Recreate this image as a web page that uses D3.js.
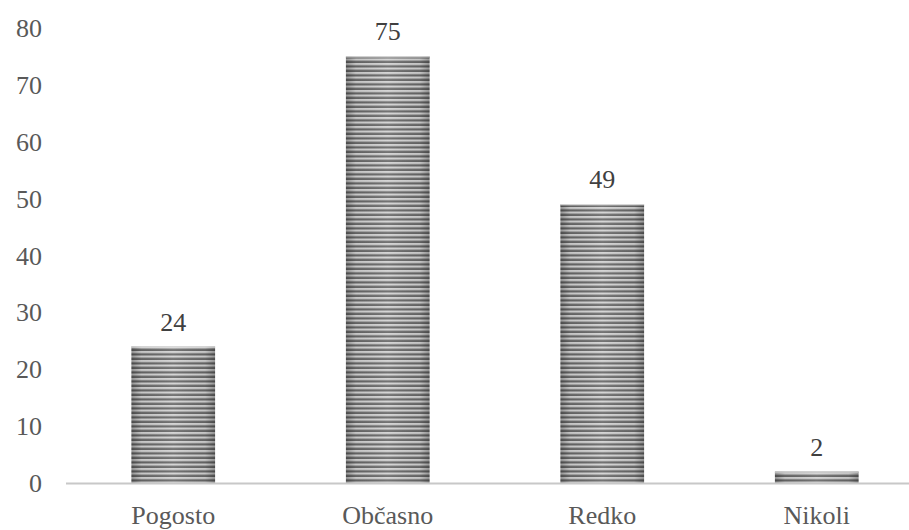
<!DOCTYPE html>
<html>
<head>
<meta charset="utf-8">
<script src="https://cdn.jsdelivr.net/npm/d3@7"></script>
<style>
  html, body { margin: 0; padding: 0; background: #fff; }
  svg { display: block; }
</style>
</head>
<body>
<svg id="chart" width="909" height="530"></svg>
<script>
// Response categories and counts
const categories = ["Pogosto", "Občasno", "Redko", "Nikoli"];
const counts = [24, 75, 49, 2];
const yTicks = [0, 10, 20, 30, 40, 50, 60, 70, 80];

const FONT = "'Liberation Serif', 'Times New Roman', 'DejaVu Serif', serif";
const svg = d3.select("#chart").attr("font-family", FONT);
const plotLeft = 66, plotRight = 924, plotTop = 28, plotBottom = 483;

const x = d3.scaleBand().domain(categories).range([plotLeft, plotRight]).paddingInner(0.61).paddingOuter(0.305);
const y = d3.scaleLinear().domain([0, 80]).range([plotBottom, plotTop]);

const defs = svg.append("defs");
// horizontal stripes
const pat = defs.append("pattern")
  .attr("id", "stripes")
  .attr("patternUnits", "userSpaceOnUse")
  .attr("width", 10).attr("height", 4.5);
pat.append("rect").attr("width", 10).attr("height", 4.5).attr("fill", "#d2d2d2");
pat.append("rect").attr("y", 2.2).attr("width", 10).attr("height", 2.3).attr("fill", "#686868");

// darker edges across each bar
const grad = defs.append("linearGradient").attr("id", "edgeShade")
  .attr("x1", "0%").attr("x2", "100%").attr("y1", "0%").attr("y2", "0%");
grad.append("stop").attr("offset", "0%").attr("stop-color", "#000").attr("stop-opacity", 0.3);
grad.append("stop").attr("offset", "12%").attr("stop-color", "#000").attr("stop-opacity", 0.06);
grad.append("stop").attr("offset", "50%").attr("stop-color", "#fff").attr("stop-opacity", 0.08);
grad.append("stop").attr("offset", "88%").attr("stop-color", "#000").attr("stop-opacity", 0.06);
grad.append("stop").attr("offset", "100%").attr("stop-color", "#000").attr("stop-opacity", 0.3);

// y tick labels
svg.append("g").selectAll("text").data(yTicks).join("text")
  .attr("x", 42).attr("y", d => y(d))
  .attr("dy", "0.35em")
  .attr("text-anchor", "end")
  .attr("font-family", FONT)
  .attr("font-size", 26)
  .attr("fill", "#595959")
  .text(d => d);

// bars
const bars = svg.append("g").selectAll("g").data(categories).join("g");
bars.append("rect")
  .attr("x", d => x(d)).attr("width", x.bandwidth())
  .attr("y", (d, i) => y(counts[i])).attr("height", (d, i) => plotBottom - y(counts[i]))
  .attr("fill", "url(#stripes)");
bars.append("rect")
  .attr("x", d => x(d)).attr("width", x.bandwidth())
  .attr("y", (d, i) => y(counts[i])).attr("height", (d, i) => plotBottom - y(counts[i]))
  .attr("fill", "url(#edgeShade)");
bars.append("rect")
  .attr("x", d => x(d)).attr("width", x.bandwidth())
  .attr("y", (d, i) => y(counts[i])).attr("height", 1)
  .attr("fill", "#e2e2e2");

// baseline
svg.append("line")
  .attr("x1", plotLeft).attr("x2", plotRight)
  .attr("y1", plotBottom + 0.5).attr("y2", plotBottom + 0.5)
  .attr("stroke", "#c8c8c8").attr("stroke-width", 2);

// value labels
svg.append("g").selectAll("text").data(categories).join("text")
  .attr("x", d => x(d) + x.bandwidth() / 2)
  .attr("y", (d, i) => y(counts[i]) - 16)
  .attr("text-anchor", "middle")
  .attr("font-family", FONT)
  .attr("font-size", 26)
  .attr("fill", "#404040")
  .text((d, i) => counts[i]);

// category labels
svg.append("g").selectAll("text").data(categories).join("text")
  .attr("x", d => x(d) + x.bandwidth() / 2)
  .attr("y", 524)
  .attr("text-anchor", "middle")
  .attr("font-family", FONT)
  .attr("font-size", 26)
  .attr("fill", "#595959")
  .text(d => d);
</script>
</body>
</html>
